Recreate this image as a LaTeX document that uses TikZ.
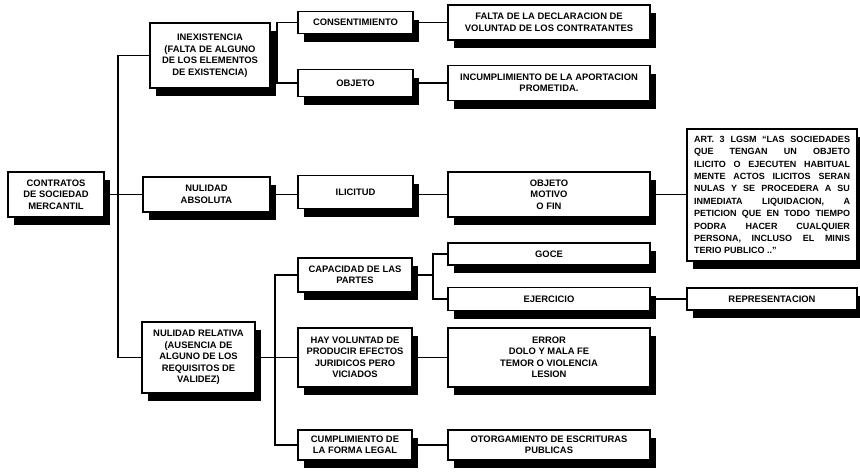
\documentclass[tikz,border=0pt]{standalone}
\usepackage{fontspec}
\setmainfont{Liberation Sans}
\usetikzlibrary{shadows}
\begin{document}
\begin{tikzpicture}[x=1pt,y=-1pt,
  bx/.style={draw, line width=1.4pt, fill=white, align=center,
    font=\fontsize{9.4}{11.5}\selectfont\bfseries, inner sep=2pt,
    drop shadow={shadow xshift=6pt,shadow yshift=-8pt,fill=black,opacity=1}},
  ln/.style={line width=1.4pt}]
\useasboundingbox (0,0) rectangle (860,474);
% level 0
\node[bx, minimum width=96, minimum height=45] (cont) at (56,194.5) {CONTRATOS\\DE SOCIEDAD\\MERCANTIL};
% level 1
\node[bx, minimum width=120, minimum height=65] (inex) at (210,55.5) {INEXISTENCIA\\(FALTA DE ALGUNO\\DE LOS ELEMENTOS\\DE EXISTENCIA)};
\node[bx, minimum width=127, minimum height=35] (nabs) at (206.5,194.5) {NULIDAD\\ABSOLUTA};
\node[bx, minimum width=113, minimum height=71] (nrel) at (198.5,357.5) {NULIDAD RELATIVA\\(AUSENCIA DE\\ALGUNO DE LOS\\REQUISITOS DE\\VALIDEZ)};
% level 2
\node[bx, minimum width=115, minimum height=22] (cons) at (355.5,22.5) {CONSENTIMIENTO};
\node[bx, minimum width=115, minimum height=27] (obj) at (355.5,83) {OBJETO};
\node[bx, minimum width=115, minimum height=33] (ilic) at (355.5,192) {ILICITUD};
\node[bx, minimum width=114, minimum height=34] (cap) at (355,275) {CAPACIDAD DE LAS\\PARTES};
\node[bx, minimum width=114, minimum height=59] (hay) at (355,357.5) {HAY VOLUNTAD DE\\PRODUCIR EFECTOS\\JURIDICOS PERO\\VICIADOS};
\node[bx, minimum width=114, minimum height=30] (cump) at (355,445) {CUMPLIMIENTO DE\\LA FORMA LEGAL};
% level 3
\node[bx, minimum width=202, minimum height=35] (falta) at (549,22.5) {FALTA DE LA DECLARACION DE\\VOLUNTAD DE LOS CONTRATANTES};
\node[bx, minimum width=202, minimum height=35] (incum) at (549,83) {INCUMPLIMIENTO DE LA APORTACION\\PROMETIDA.};
\node[bx, minimum width=202, minimum height=45] (omf) at (549,194.5) {OBJETO\\MOTIVO\\O FIN};
\node[bx, minimum width=202, minimum height=22] (goce) at (549,254) {GOCE};
\node[bx, minimum width=202, minimum height=23] (ejer) at (549,299) {EJERCICIO};
\node[bx, minimum width=202, minimum height=59] (err) at (549,357.5) {ERROR\\DOLO Y MALA FE\\TEMOR O VIOLENCIA\\LESION};
\node[bx, minimum width=202, minimum height=30] (otor) at (549,445) {OTORGAMIENTO DE ESCRITURAS\\PUBLICAS};
% level 4
\node[bx, minimum width=170, minimum height=130, inner sep=7pt, align=left,
  font=\fontsize{9}{12.4}\selectfont\bfseries] (art) at (772,195) {%
  \parbox{156pt}{%
  \makebox[156pt][s]{ART. 3 LGSM ``LAS SOCIEDADES}\\
  \makebox[156pt][s]{QUE TENGAN UN OBJETO}\\
  \makebox[156pt][s]{ILICITO O EJECUTEN HABITUAL}\\
  \makebox[156pt][s]{MENTE ACTOS ILICITOS SERAN}\\
  \makebox[156pt][s]{NULAS Y SE PROCEDERA A SU}\\
  \makebox[156pt][s]{INMEDIATA LIQUIDACION, A}\\
  \makebox[156pt][s]{PETICION QUE EN TODO TIEMPO}\\
  \makebox[156pt][s]{PODRA HACER CUALQUIER}\\
  \makebox[156pt][s]{PERSONA, INCLUSO EL MINIS}\\
  TERIO PUBLICO ..''}};
\node[bx, minimum width=170, minimum height=22] (repr) at (772,299) {REPRESENTACION};
% connectors
\coordinate (j0) at (118,194.5);
\draw[ln] (cont.east) -- (j0);
\draw[ln] (inex.west) -| (j0) |- (nrel.west);
\draw[ln] (j0) -- (nabs.west);
\coordinate (j1) at (277,55.5);
\draw[ln] (inex.east) -- (j1);
\draw[ln] (cons.west) -| (j1) |- (obj.west);
\draw[ln] (cons.east) -- (falta.west);
\draw[ln] (obj.east) -- (incum.west);
\draw[ln] (nabs.east) -- (nabs.east -| ilic.west);
\draw[ln] (omf.west -| ilic.east) -- (omf.west);
\draw[ln] (omf.east) -- (omf.east -| art.west);
\coordinate (j2) at (275,357.5);
\draw[ln] (nrel.east) -- (j2);
\draw[ln] (cap.west) -| (j2) |- (cump.west);
\draw[ln] (j2) -- (hay.west);
\coordinate (j3) at (433,275);
\draw[ln] (cap.east) -- (j3);
\draw[ln] (goce.west) -| (j3) |- (ejer.west);
\draw[ln] (hay.east) -- (err.west);
\draw[ln] (cump.east) -- (otor.west);
\draw[ln] (ejer.east) -- (repr.west);
\end{tikzpicture}
\end{document}
